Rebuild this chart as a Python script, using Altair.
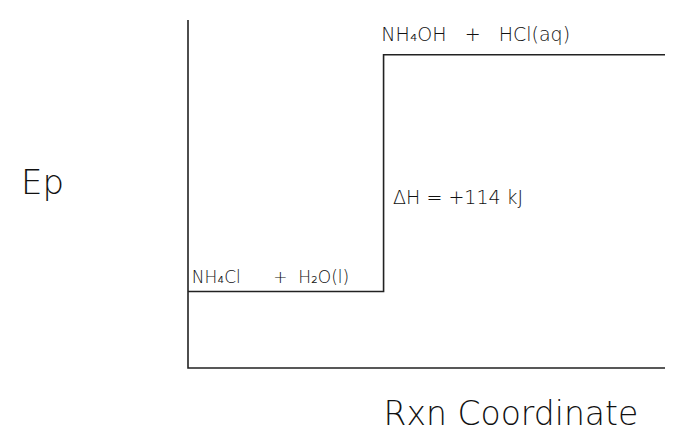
import altair as alt
import pandas as pd

# energy profile (reaction coordinate, potential energy)
path_x = [0, 41, 41, 100]
path_y = [22, 22, 90, 90]

axis_x = [0, 0, 100]
axis_y = [100, 0, 0]

NB = "\u00a0"
label_text = [
    "NH₄OH" + NB * 3 + "+" + NB * 3 + "HCl(aq)",
    "NH₄Cl" + NB * 6 + "+" + NB * 2 + "H₂O(l)",
    "ΔH = +114 kJ",
    "Ep",
    "Rxn Coordinate",
]
label_x = [40.5, 0.8, 43, -35, 41]
label_y = [94, 24.4, 47, 50, -16.5]
label_size = [19, 17, 19, 34, 33]

path = pd.DataFrame({"x": path_x, "y": path_y, "o": range(len(path_x))})
axes = pd.DataFrame({"x": axis_x, "y": axis_y, "o": range(len(axis_x))})
labels = pd.DataFrame({"t": label_text, "x": label_x, "y": label_y, "s": label_size})

xs = alt.Scale(domain=[0, 100], nice=False, zero=False)
ys = alt.Scale(domain=[0, 100], nice=False, zero=False)

axes_layer = alt.Chart(axes).mark_line(color="#222", strokeWidth=1.6).encode(
    x=alt.X("x:Q", scale=xs, axis=None),
    y=alt.Y("y:Q", scale=ys, axis=None),
    order="o:Q",
)
path_layer = alt.Chart(path).mark_line(color="#222", strokeWidth=1.6).encode(
    x=alt.X("x:Q", scale=xs, axis=None),
    y=alt.Y("y:Q", scale=ys, axis=None),
    order="o:Q",
)
text_layer = alt.Chart(labels).mark_text(
    align="left", baseline="alphabetic", color="#111", font="DejaVu Sans", fontWeight=300
).encode(
    x=alt.X("x:Q", scale=xs, axis=None),
    y=alt.Y("y:Q", scale=ys, axis=None),
    text="t:N",
    size=alt.Size("s:Q", scale=None, legend=None),
)

chart = (
    alt.layer(axes_layer, path_layer, text_layer)
    .properties(
        width=477,
        height=348,
        padding={"left": 180, "top": 12, "right": 0, "bottom": 70},
        autosize=alt.AutoSizeParams(type="none"),
        background="white",
    )
    .configure_view(stroke=None)
)

chart.save("out.html", embed_options={"renderer": "svg", "actions": False})
